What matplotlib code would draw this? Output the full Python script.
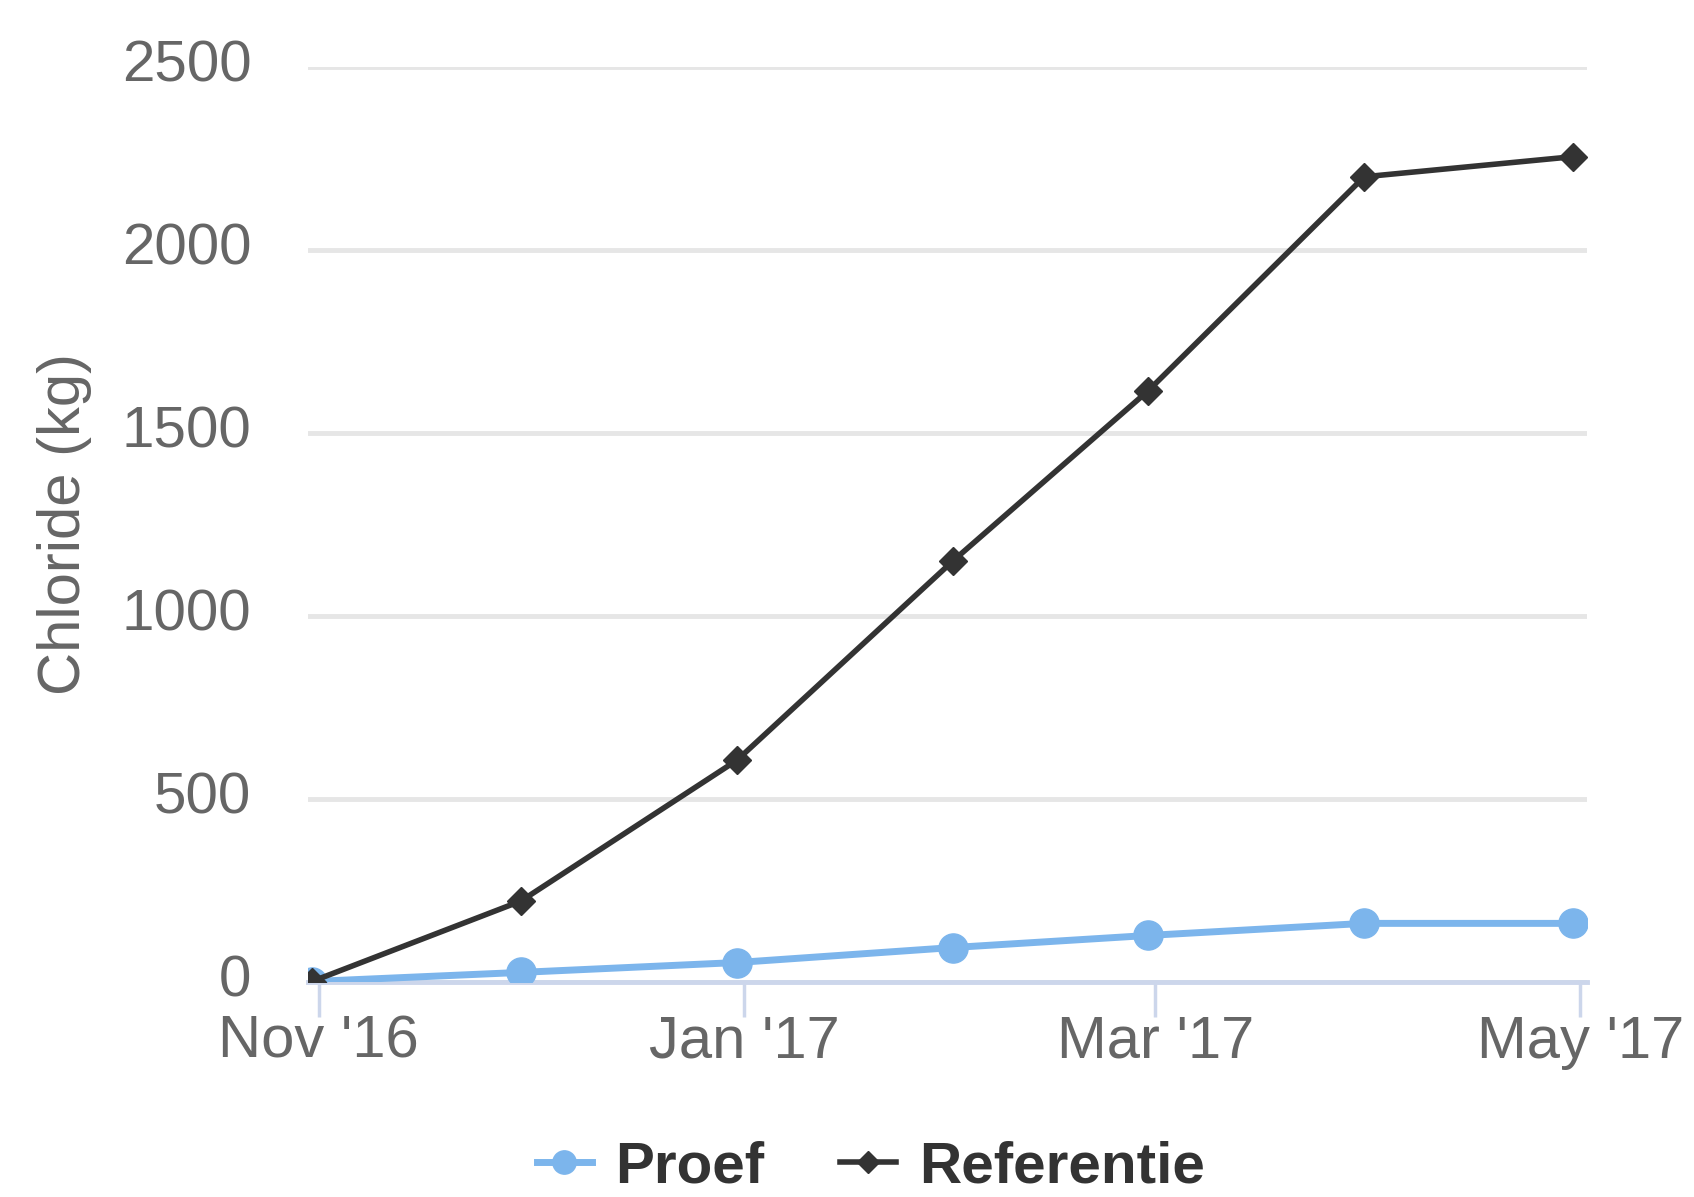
import numpy as np
import matplotlib
matplotlib.use("Agg")
import matplotlib.pyplot as plt
import matplotlib.dates as mdates
from matplotlib.transforms import ScaledTranslation

# ----------------------------------------------------------------------
# Data
# ----------------------------------------------------------------------
DATES = np.array(["2016-10-31", "2016-11-30", "2016-12-31", "2017-01-31",
                  "2017-02-28", "2017-03-31", "2017-04-30"], dtype="datetime64[D]")
PROEF = [0, 25, 52, 93, 126, 159, 159]
REFERENTIE = [0, 220, 605, 1150, 1615, 2200, 2255]

X_TICKS = np.array(["2016-11-01", "2017-01-01", "2017-03-01", "2017-05-01"],
                   dtype="datetime64[D]")
X_TICK_LABELS = ["Nov '16", "Jan '17", "Mar '17", "May '17"]
Y_TICKS = [0, 500, 1000, 1500, 2000, 2500]

plt.rcParams["font.family"] = ["Liberation Sans", "DejaVu Sans"]

fig = plt.figure(figsize=(16.94, 11.97), dpi=100)
ax = fig.add_axes([0.182, 0.180, 0.755, 0.764])

ax.plot(DATES, PROEF, "-o", color="#7cb5ec", linewidth=5, markersize=21,
        zorder=3, label="Proef")
ax.plot(DATES, REFERENTIE, "-D", color="#333333", linewidth=4, markersize=14,
        zorder=4, label="Referentie")

ax.set_ylim(0, 2500)
ax.set_xlim(np.datetime64("2016-10-30T12"), np.datetime64("2017-05-02"))

ax.set_yticks(Y_TICKS)
ax.set_yticklabels([str(v) for v in Y_TICKS])
ax.set_xticks(mdates.date2num(X_TICKS))
ax.set_xticklabels(X_TICK_LABELS)

ax.grid(axis="y", color="#e6e6e6", linewidth=3.5, zorder=0)
ax.set_axisbelow(True)
for side in ["left", "top", "right"]:
    ax.spines[side].set_visible(False)
ax.spines["bottom"].set_color("#ccd6eb")
ax.spines["bottom"].set_linewidth(3.5)

ax.tick_params(axis="y", length=0, pad=41, labelsize=42, labelcolor="#666666")
ax.tick_params(axis="x", length=25, width=2.5, color="#ccd6eb", pad=-1,
               labelsize=43, labelcolor="#666666")

# y labels sit a little above their gridlines in the reference
up = ScaledTranslation(0, 4.5 / 72, fig.dpi_scale_trans)
for lbl in ax.get_yticklabels():
    lbl.set_transform(lbl.get_transform() + up)

ax.set_ylabel("Chloride (kg)", fontsize=43, color="#666666")
ax.yaxis.set_label_coords(-0.169, 0.5)

fig.legend(loc="center", bbox_to_anchor=(0.514, 0.025), ncol=2, frameon=False,
           prop={"weight": "bold", "size": 42}, labelcolor="#333333",
           handlelength=0.95, handletextpad=0.4, columnspacing=1.3,
           markerscale=0.8)

fig.savefig("out.png", dpi=100)
